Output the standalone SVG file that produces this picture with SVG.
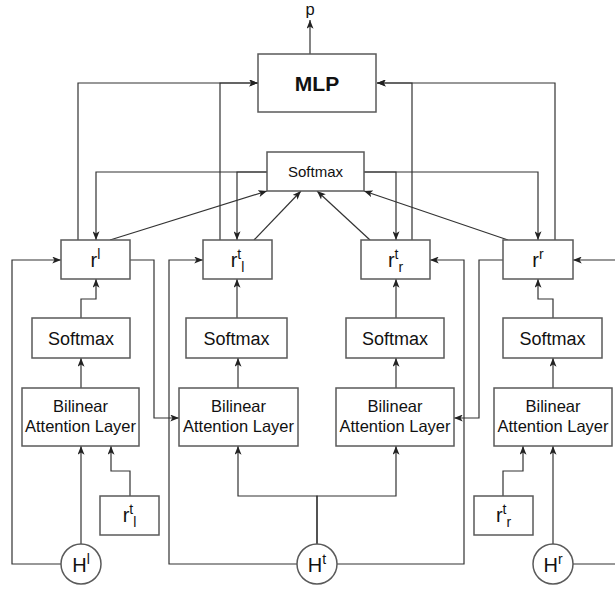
<svg xmlns="http://www.w3.org/2000/svg" width="615" height="590" viewBox="0 0 615 590">
<style>
.box{fill:#fff;stroke:#5a5a5a;stroke-width:1.5}
.e{fill:none;stroke:#333;stroke-width:1.2}
.t{font-family:"Liberation Sans",Arial,sans-serif;fill:#111;text-anchor:middle}
.big{font-size:20px}
.s{font-size:14px}
.sm{font-size:18px}
.bl{font-size:16.5px}
</style>
<defs>
<marker id="a" viewBox="0 0 10 8" refX="10" refY="4" markerWidth="9" markerHeight="7" orient="auto" markerUnits="userSpaceOnUse">
<path d="M0,0 L10,4 L0,8 L2.5,4 z" fill="#222"/>
</marker>
</defs>
<rect width="615" height="590" fill="#fff"/>
<g id="connectors">
<path class="e" d="M310,54 V20" marker-end="url(#a)"/>
<path class="e" d="M78,240 V83 H258" marker-end="url(#a)"/>
<path class="e" d="M220,240 V83 H258" marker-end="url(#a)"/>
<path class="e" d="M555,240 V83 H377" marker-end="url(#a)"/>
<path class="e" d="M412,240 V83 H377" marker-end="url(#a)"/>
<path class="e" d="M267,172 H96 V240" marker-end="url(#a)"/>
<path class="e" d="M267,172 H237 V240" marker-end="url(#a)"/>
<path class="e" d="M364,172 H538 V240" marker-end="url(#a)"/>
<path class="e" d="M364,172 H396 V240" marker-end="url(#a)"/>
<path class="e" d="M110,240 L267,191" marker-end="url(#a)"/>
<path class="e" d="M254,240 L301,191" marker-end="url(#a)"/>
<path class="e" d="M370,240 L317,191" marker-end="url(#a)"/>
<path class="e" d="M508,240 L364,191" marker-end="url(#a)"/>
<path class="e" d="M81,318 V299 H96 V279" marker-end="url(#a)"/>
<path class="e" d="M237,318 V279" marker-end="url(#a)"/>
<path class="e" d="M396,318 V279" marker-end="url(#a)"/>
<path class="e" d="M553,318 V299 H538 V279" marker-end="url(#a)"/>
<path class="e" d="M81,388 V358" marker-end="url(#a)"/>
<path class="e" d="M238,388 V358" marker-end="url(#a)"/>
<path class="e" d="M396,388 V358" marker-end="url(#a)"/>
<path class="e" d="M553,388 V358" marker-end="url(#a)"/>
<path class="e" d="M81,544 V446" marker-end="url(#a)"/>
<path class="e" d="M61,564 H12 V260 H61" marker-end="url(#a)"/>
<path class="e" d="M130,496 V471 H111 V446" marker-end="url(#a)"/>
<path class="e" d="M130,260 H154 V418 H179" marker-end="url(#a)"/>
<path class="e" d="M317,544 V496 H238 V446" marker-end="url(#a)"/>
<path class="e" d="M317,544 V496 H396 V446" marker-end="url(#a)"/>
<path class="e" d="M297,564 H169 V260 H203" marker-end="url(#a)"/>
<path class="e" d="M337,564 H464 V260 H430" marker-end="url(#a)"/>
<path class="e" d="M503,260 H479 V418 H454" marker-end="url(#a)"/>
<path class="e" d="M503,496 V471 H523 V446" marker-end="url(#a)"/>
<path class="e" d="M553,544 V446" marker-end="url(#a)"/>
<path class="e" d="M573,564 H630 V260 H573" marker-end="url(#a)"/>
</g>
<g id="p"><text class="t" x="310" y="15" font-size="16.5">p</text></g>
<g id="mlp"><rect class="box" x="258" y="54" width="118" height="58"/><text class="t" x="317" y="90.5" font-size="21" font-weight="bold">MLP</text></g>
<g id="softmax_top"><rect class="box" x="267" y="152" width="97" height="39"/><text class="t" x="315.5" y="177" font-size="15">Softmax</text></g>
<g id="r_l"><rect class="box" x="61" y="240" width="69" height="39"/><text class="t big" x="95.5" y="267">r<tspan class="s" dy="-8">l</tspan></text></g>
<g id="r_t_l"><rect class="box" x="203" y="240" width="69" height="39"/><text class="t big" x="237.5" y="267">r<tspan class="s" dy="-8">t</tspan><tspan class="s" dy="13">l</tspan></text></g>
<g id="r_t_r"><rect class="box" x="361" y="240" width="69" height="39"/><text class="t big" x="395.5" y="267">r<tspan class="s" dy="-8">t</tspan><tspan class="s" dy="13">r</tspan></text></g>
<g id="r_r"><rect class="box" x="503" y="240" width="70" height="39"/><text class="t big" x="538" y="267">r<tspan class="s" dy="-8">r</tspan></text></g>
<g id="softmax_1"><rect class="box" x="32" y="318" width="98" height="40"/><text class="t sm" x="81" y="344.5">Softmax</text></g>
<g id="softmax_2"><rect class="box" x="186" y="318" width="101" height="40"/><text class="t sm" x="236.5" y="344.5">Softmax</text></g>
<g id="softmax_3"><rect class="box" x="346" y="318" width="98" height="40"/><text class="t sm" x="395" y="344.5">Softmax</text></g>
<g id="softmax_4"><rect class="box" x="503" y="318" width="99" height="40"/><text class="t sm" x="552.5" y="344.5">Softmax</text></g>
<g id="bilinear_1"><rect class="box" x="22" y="388" width="117" height="58"/><text class="t bl" x="80.5" y="412">Bilinear</text><text class="t bl" x="80.5" y="432">Attention Layer</text></g>
<g id="bilinear_2"><rect class="box" x="179" y="388" width="119" height="58"/><text class="t bl" x="238.5" y="412">Bilinear</text><text class="t bl" x="238.5" y="432">Attention Layer</text></g>
<g id="bilinear_3"><rect class="box" x="336" y="388" width="118" height="58"/><text class="t bl" x="395" y="412">Bilinear</text><text class="t bl" x="395" y="432">Attention Layer</text></g>
<g id="bilinear_4"><rect class="box" x="494" y="388" width="118" height="58"/><text class="t bl" x="553" y="412">Bilinear</text><text class="t bl" x="553" y="432">Attention Layer</text></g>
<g id="r_t_l_in"><rect class="box" x="100" y="496" width="59" height="39"/><text class="t big" x="129.5" y="522">r<tspan class="s" dy="-8">t</tspan><tspan class="s" dy="13">l</tspan></text></g>
<g id="r_t_r_in"><rect class="box" x="474" y="496" width="59" height="39"/><text class="t big" x="503.5" y="522">r<tspan class="s" dy="-8">t</tspan><tspan class="s" dy="13">r</tspan></text></g>
<g id="H_l"><circle class="box" cx="81" cy="564" r="20"/><text class="t big" x="81" y="572">H<tspan class="s" dy="-8">l</tspan></text></g>
<g id="H_t"><circle class="box" cx="317" cy="564" r="20"/><text class="t big" x="317" y="572">H<tspan class="s" dy="-8">t</tspan></text></g>
<g id="H_r"><circle class="box" cx="553" cy="564" r="20"/><text class="t big" x="553" y="572">H<tspan class="s" dy="-8">r</tspan></text></g>
</svg>
